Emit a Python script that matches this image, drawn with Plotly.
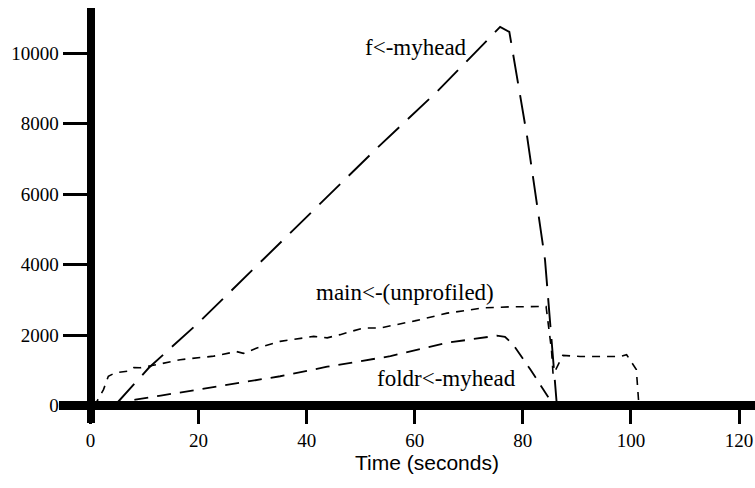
import plotly.graph_objects as go

# ---- data ----
f_t = [4.5, 10.8, 20, 30, 40, 53.0, 64.1, 74.0, 75.8, 77.5, 80.8, 84.1, 86.0, 86.3]
f_y = [0, 1070, 2350, 3850, 5360, 7300, 8900, 10450, 10740, 10600, 7620, 4140, 370, 0]

main_t = [0.5, 1.2, 2.4, 3.3, 4.6, 6.8, 8, 9.2, 12.3, 16.6, 22.8, 27, 28.3, 30.8, 35.1,
          41.3, 43.8, 46.2, 50.5, 53.6, 60, 66, 72.7, 78, 84.3, 85.3, 85.6, 87.4, 90.6,
          98, 99.2, 101, 101.4, 101.5]
main_y = [0, 120, 450, 830, 930, 970, 1075, 1070, 1160, 1300, 1400, 1530, 1480, 1630, 1820,
          1960, 1920, 2010, 2200, 2200, 2400, 2620, 2770, 2800, 2810, 1580, 870, 1420, 1390,
          1390, 1440, 1020, 170, 0]

foldr_t = [4, 8.3, 13, 24.6, 35.1, 43.8, 53, 55.5, 66, 75.2, 76.7, 78.2, 81.4, 83.8, 85, 85.5]
foldr_y = [0, 170, 280, 570, 830, 1100, 1340, 1400, 1780, 1980, 1950, 1730, 1020, 450, 170, 0]

x_ticks = [0, 20, 40, 60, 80, 100, 120]
y_ticks = [0, 2000, 4000, 6000, 8000, 10000]

labels = ["f<-myhead", "main<-(unprofiled)", "foldr<-myhead"]
label_t = [60.2, 58.2, 65.8]
label_y = [10170, 3220, 780]

x_title = "Time (seconds)"

SERIF = "Liberation Serif, Times New Roman, Times, serif"
SANS = "Liberation Sans, Arial, Helvetica, sans-serif"

# ---- figure ----
fig = go.Figure()
fig.add_trace(go.Scatter(x=f_t, y=f_y, mode="lines",
                         line=dict(color="black", width=1.9, dash="29px,12px")))
fig.add_trace(go.Scatter(x=main_t, y=main_y, mode="lines",
                         line=dict(color="black", width=1.6, dash="8px,7px")))
fig.add_trace(go.Scatter(x=foldr_t, y=foldr_y, mode="lines",
                         line=dict(color="black", width=1.8, dash="14px,9px")))

xr = [-5.83, 122.96]
yr = [-496.5, 11277]
xpos = (0 - xr[0]) / (xr[1] - xr[0])
ypos = (0 - yr[0]) / (yr[1] - yr[0])

tickfont = dict(family=SERIF, size=19, color="black")

fig.update_layout(
    width=755, height=488,
    margin=dict(l=59, r=0, t=8, b=65, pad=0),
    paper_bgcolor="white", plot_bgcolor="white",
    showlegend=False,
    font=dict(family=SERIF, color="black"),
    xaxis=dict(range=xr, showgrid=False, showline=False,
               zeroline=True, zerolinecolor="black", zerolinewidth=8,
               tickvals=x_ticks, ticktext=[str(v) for v in x_ticks],
               ticks="outside", ticklen=18, tickwidth=3, tickcolor="black",
               tickfont=tickfont, anchor="free", position=ypos),
    yaxis=dict(range=yr, showgrid=False, showline=False,
               zeroline=True, zerolinecolor="black", zerolinewidth=9,
               tickvals=y_ticks, ticktext=[str(v) for v in y_ticks],
               ticks="outside", ticklen=28, tickwidth=3, tickcolor="black",
               tickfont=tickfont, anchor="free", position=xpos),
)

for txt, tx, ty in zip(labels, label_t, label_y):
    fig.add_annotation(x=tx, y=ty, text=txt, showarrow=False,
                       font=dict(family=SERIF, size=23, color="black"))

fig.add_annotation(x=62.3, y=-0.095, xref="x", yref="paper", text=x_title,
                   showarrow=False, yanchor="middle",
                   font=dict(family=SANS, size=21, color="black"))

fig.write_html("out.html")
